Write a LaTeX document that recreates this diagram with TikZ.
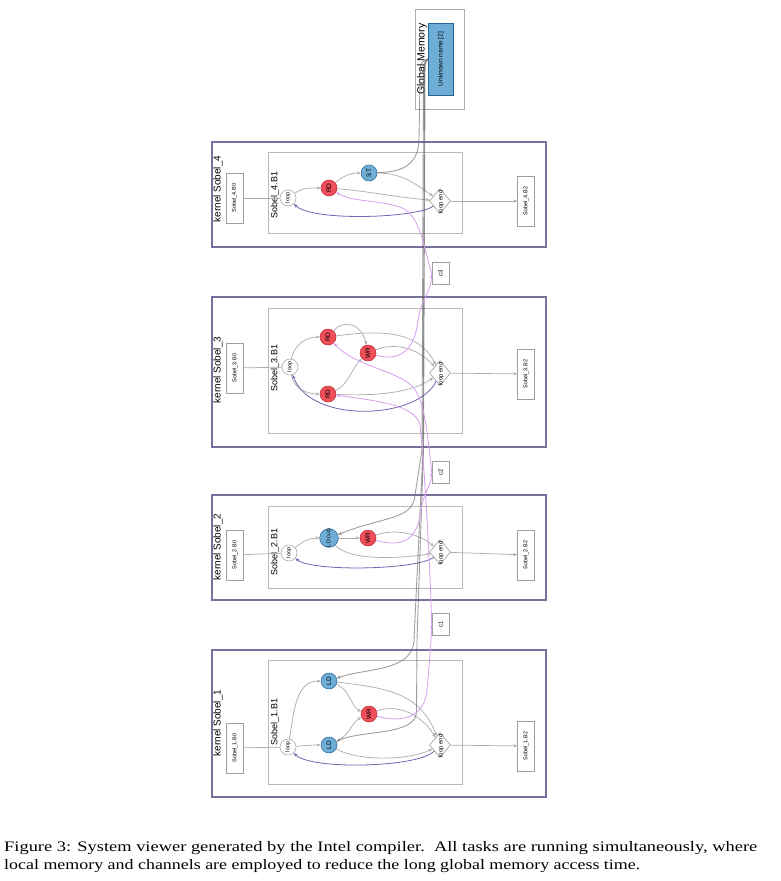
\documentclass[tikz,border=0pt]{standalone}
\usepackage{graphicx}
\usepackage{fontspec}
\setmainfont{Liberation Serif}
\newfontfamily\dsans{Liberation Sans}
\usetikzlibrary{shapes.geometric,arrows.meta}
\definecolor{kcol}{RGB}{120,112,158}
\definecolor{redfill}{RGB}{240,78,88}
\definecolor{reddraw}{RGB}{185,40,50}
\definecolor{bluefill}{RGB}{110,174,214}
\definecolor{bluedraw}{RGB}{38,98,148}
\definecolor{edgec}{RGB}{172,172,172}
\definecolor{backc}{RGB}{108,104,178}
\definecolor{pinkc}{RGB}{214,158,240}
\definecolor{gmc}{RGB}{95,95,95}
\newcommand\rtx[1]{\rotatebox{90}{#1}}
\begin{document}
\begin{tikzpicture}[x=1pt,y=-1pt,
 kbox/.style={draw=kcol,line width=1.1pt},
 ibox/.style={draw=gray!55,line width=0.6pt},
 bnode/.style={draw=gray!75,line width=0.6pt,fill=white,minimum width=17pt,minimum height=50pt,inner sep=0pt,font=\dsans\fontsize{5.5}{6}\selectfont},
 loopn/.style={circle,draw=gray!75,line width=0.5pt,fill=white,minimum size=16pt,inner sep=0pt,font=\dsans\fontsize{5.5}{6}\selectfont},
 rdn/.style={circle,draw=reddraw,line width=0.5pt,fill=redfill,minimum size=16pt,inner sep=0pt,font=\dsans\fontsize{6.5}{7}\selectfont},
 ldn/.style={rdn,draw=bluedraw,fill=bluefill},
 endn/.style={diamond,draw=gray!80,line width=0.6pt,fill=white,minimum width=21pt,minimum height=25pt,inner sep=0pt},
 endt/.style={font=\dsans\fontsize{6}{6}\selectfont,inner sep=0pt},
 chn/.style={draw=gray!75,line width=0.6pt,fill=white,minimum width=17pt,minimum height=22pt,inner sep=0pt,font=\dsans\fontsize{6}{6}\selectfont},
 klab/.style={font=\dsans\fontsize{10}{10}\selectfont,inner sep=0pt},
 blab/.style={font=\dsans\fontsize{9}{9}\selectfont,inner sep=0pt},
 ga/.style={draw=edgec,line width=0.7pt,-{Stealth[length=4pt,width=3.2pt]}},
 gl/.style={draw=edgec,line width=0.7pt},
 ba/.style={draw=backc,line width=0.8pt,-{Stealth[length=4pt,width=3.2pt]}},
 pa/.style={draw=pinkc,line width=0.8pt,-{Stealth[length=4pt,width=3.2pt]}},
 gmedge/.style={draw=gmc,line width=0.9pt,opacity=0.6},
]
\useasboundingbox[fill=white] (0,0) rectangle (780,881);

% ---------- cluster boxes ----------
\draw[kbox] (212,142) rectangle (546,247);
\draw[ibox] (268,152) rectangle (462,233);
\draw[kbox] (212,297) rectangle (546,447);
\draw[ibox] (268,308) rectangle (462,433);
\draw[kbox] (212,495) rectangle (546,600);
\draw[ibox] (268,506) rectangle (462,588);
\draw[kbox] (212,650) rectangle (546,797);
\draw[ibox] (268,660) rectangle (462,784);

% ---------- global memory ----------
\node[draw=gray!65,line width=0.6pt,minimum width=49pt,minimum height=100pt,inner sep=0pt] (gm) at (439.5,59) {};
\node[draw=bluedraw,line width=0.6pt,fill=bluefill,minimum width=25pt,minimum height=72pt,inner sep=0pt,font=\dsans\fontsize{6.5}{7}\selectfont] (unk) at (441,59) {\rtx{Unknown name [2]}};
\node[font=\dsans\fontsize{10.5}{11}\selectfont,inner sep=0pt] (gmt) at (422,59) {\rtx{Global Memory}};

% ---------- labels ----------
\node[klab] (k4) at (218,189) {\rtx{kernel Sobel\_4}};
\node[klab] (k3) at (218,370) {\rtx{kernel Sobel\_3}};
\node[klab] (k2) at (218,547) {\rtx{kernel Sobel\_2}};
\node[klab] (k1) at (218,723) {\rtx{kernel Sobel\_1}};
\node[blab] (l4) at (275,195) {\rtx{Sobel\_4.B1}};
\node[blab] (l3) at (275,368) {\rtx{Sobel\_3.B1}};
\node[blab] (l2) at (275,552) {\rtx{Sobel\_2.B1}};
\node[blab] (l1) at (275,722) {\rtx{Sobel\_1.B1}};

% ---------- Sobel_4 nodes ----------
\node[bnode] (b40) at (234.5,198) {\rtx{Sobel\_4.B0}};
\node[bnode] (b42) at (526,201) {\rtx{Sobel\_4.B2}};
\node[loopn] (lp4) at (288,198) {\rtx{loop}};
\node[rdn] (rd4) at (329,188) {\rtx{RD}};
\node[ldn] (st4) at (369,173) {\rtx{ST}};
\node[endn] (e4) at (440,201) {};
\node[endt] (e4t) at (441,202) {\rtx{loop end}};

% ---------- Sobel_3 nodes ----------
\node[bnode] (b30) at (235,368) {\rtx{Sobel\_3.B0}};
\node[bnode] (b32) at (526,374) {\rtx{Sobel\_3.B2}};
\node[loopn] (lp3) at (290,367) {\rtx{loop}};
\node[rdn] (rd3a) at (328,337) {\rtx{RD}};
\node[rdn] (wr3) at (368,353) {\rtx{WR}};
\node[rdn] (rd3b) at (328,394) {\rtx{RD}};
\node[endn] (e3) at (440,373) {};
\node[endt] (e3t) at (441,374) {\rtx{loop end}};

% ---------- Sobel_2 nodes ----------
\node[bnode] (b20) at (235,555) {\rtx{Sobel\_2.B0}};
\node[bnode] (b22) at (526,555) {\rtx{Sobel\_2.B2}};
\node[loopn] (lp2) at (289,553) {\rtx{loop}};
\node[ldn,font=\dsans\fontsize{5.5}{6}\selectfont] (ld2) at (329,538) {\rtx{LD (x4)}};
\node[rdn] (wr2) at (368,538) {\rtx{WR}};
\node[endn] (e2) at (440,552) {};
\node[endt] (e2t) at (441,553) {\rtx{loop end}};

% ---------- Sobel_1 nodes ----------
\node[bnode] (b10) at (235,748) {\rtx{Sobel\_1.B0}};
\node[bnode] (b12) at (526,746) {\rtx{Sobel\_1.B2}};
\node[loopn] (lp1) at (288,747) {\rtx{loop}};
\node[ldn] (ld1a) at (329,681) {\rtx{LD}};
\node[rdn] (wr1) at (369,714) {\rtx{WR}};
\node[ldn] (ld1b) at (329,745) {\rtx{LD}};
\node[endn] (e1) at (440,745) {};
\node[endt] (e1t) at (441,746) {\rtx{loop end}};

% ---------- channels ----------
\node[chn] (c3) at (440.5,273.5) {\rtx{c3}};
\node[chn] (c2) at (440.5,472) {\rtx{c2}};
\node[chn] (c1) at (440.5,624.5) {\rtx{c1}};

% ---------- Sobel_4 edges ----------
\draw[gl] (b40) -- (lp4);
\draw[ga] (lp4) to[out=35,in=180] (rd4);
\draw[ga] (rd4) to[out=40,in=180] (st4);
\draw[ga] (st4) to[out=0,in=145] (e4);
\draw[ga] (rd4) to[out=-5,in=175] (e4);
\draw[ga] (e4) -- (b42);
\draw[ba] (e4) .. controls (418,218) and (312,222) .. (lp4);

% ---------- Sobel_3 edges ----------
\draw[gl] (b30) -- (lp3);
\draw[ga] (lp3) to[out=80,in=180] (rd3a);
\draw[ga] (lp3) to[out=-80,in=180] (rd3b);
\draw[ga] (rd3a) .. controls (345,318) and (362,325) .. (wr3);
\draw[ga] (rd3b) .. controls (348,385) and (352,368) .. (wr3);
\draw[ga] (rd3a) .. controls (380,330) and (418,330) .. (e3);
\draw[ga] (wr3) .. controls (392,343) and (416,346) .. (e3);
\draw[ga] (rd3b) .. controls (370,396) and (410,394) .. (e3);
\draw[ga] (e3) -- (b32);
\draw[ba] (e3) .. controls (418,420) and (310,424) .. (lp3);

% ---------- Sobel_2 edges ----------
\draw[gl] (b20) -- (lp2);
\draw[ga] (lp2) to[out=40,in=180] (ld2);
\draw[ga] (ld2) -- (wr2);
\draw[ga] (ld2) .. controls (350,562) and (405,558) .. (e2);
\draw[ga] (wr2) .. controls (395,528) and (420,534) .. (e2);
\draw[ga] (e2) -- (b22);
\draw[ba] (e2) .. controls (418,570) and (312,572) .. (lp2);

% ---------- Sobel_1 edges ----------
\draw[gl] (b10) -- (lp1);
\draw[ga] (lp1) to[out=80,in=180] (ld1a);
\draw[ga] (lp1) to[out=5,in=180] (ld1b);
\draw[ga] (ld1a) .. controls (350,690) and (352,708) .. (wr1);
\draw[ga] (ld1b) .. controls (350,735) and (352,722) .. (wr1);
\draw[ga] (ld1a) .. controls (385,688) and (420,692) .. (e1);
\draw[ga] (wr1) .. controls (395,704) and (420,712) .. (e1);
\draw[ga] (ld1b) .. controls (360,762) and (410,760) .. (e1);
\draw[ga] (e1) -- (b12);
\draw[ba] (e1) .. controls (418,768) and (310,770) .. (lp1);

% ---------- global memory edges ----------
\draw[gmedge] (unk.west) .. controls (420,62) .. (420,80) -- (419,140) .. controls (418,168) and (398,172) .. (st4);
\draw[gmedge,-{Stealth[length=4pt,width=3.2pt]}] (unk.west) .. controls (423.5,62) .. (423.5,80) -- (422,450) -- (415,495) .. controls (413,520) and (385,516) .. (ld2);
\draw[gmedge,-{Stealth[length=4pt,width=3.2pt]}] (unk.west) .. controls (424.5,62) .. (424.5,80) -- (423,450) -- (414,640) .. controls (413,672) and (365,668) .. (ld1a);
\draw[gmedge,-{Stealth[length=4pt,width=3.2pt]}] (unk.west) .. controls (425,62) .. (425,80) -- (423.5,450) -- (417,640) -- (416.5,712) .. controls (416,736) and (360,730) .. (ld1b);

% ---------- channel edges ----------
\draw[pa] (wr1) .. controls (405,724) and (425,715) .. (427,690) .. controls (429,665) and (431,648) .. (c1.west);
\draw[pa] (c1.west) .. controls (430,560) and (424,460) .. (420,425) .. controls (416,404) and (370,400) .. (rd3b);
\draw[pa] (wr2) .. controls (402,548) and (418,540) .. (421,510) .. controls (424,490) and (431,488) .. (c2.west);
\draw[pa] (c2.west) .. controls (428,440) and (425,398) .. (412,386) .. controls (395,370) and (355,366) .. (rd3a);
\draw[pa] (wr3) .. controls (400,362) and (415,350) .. (418,320) .. controls (421,300) and (431,292) .. (c3.west);
\draw[pa] (c3.west) .. controls (424,250) and (421,214) .. (400,207) .. controls (378,200) and (352,202) .. (rd4);

% ---------- caption ----------
\node[anchor=base west,inner sep=0pt,font=\fontsize{14.5}{15}\selectfont] (cap1) at (4,851) {\resizebox{753pt}{\height}{Figure 3: System viewer generated by the Intel compiler.\ \ All tasks are running simultaneously, where}};
\node[anchor=base west,inner sep=0pt,font=\fontsize{14.5}{15}\selectfont] (cap2) at (4,869) {\resizebox{636pt}{\height}{local memory and channels are employed to reduce the long global memory access time.}};
\end{tikzpicture}
\end{document}
